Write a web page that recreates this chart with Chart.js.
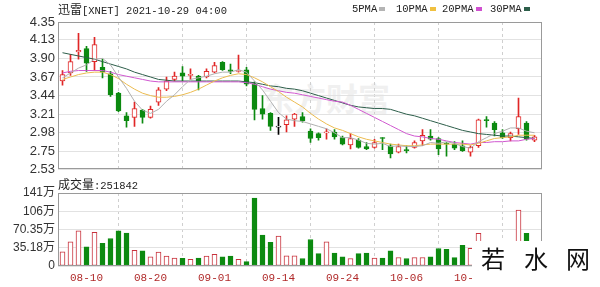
<!DOCTYPE html>
<html><head><meta charset="utf-8">
<script src="https://cdn.jsdelivr.net/npm/chart.js@4"></script>
<style>
html,body{margin:0;padding:0;background:#fff;width:600px;height:287px;overflow:hidden;position:relative;}
canvas{position:absolute;left:0;}
#c1{top:0;}
#c2{top:180px;}
.t{position:absolute;color:#222;white-space:nowrap;line-height:14px;font-size:12px;}
.cj{font-family:"Noto Sans CJK SC",sans-serif;font-size:12px;}
.m{font-family:"Liberation Mono",monospace;font-size:10.5px;}
.t i{display:inline-block;width:6px;height:4px;margin-left:2px;vertical-align:middle;}
#wm{position:absolute;left:262px;top:74px;font-family:"Noto Sans CJK SC",sans-serif;font-size:32px;font-weight:bold;color:#f0f0f0;white-space:nowrap;}
#box{position:absolute;left:472px;top:241px;width:128px;height:46px;background:#fff;}
.wc{position:absolute;top:243px;font-family:"Noto Sans CJK SC",sans-serif;font-size:24px;line-height:30px;color:#111;}
</style></head><body>
<div id="wm">东方财富</div>
<canvas id="c1" width="600" height="180" style="width:600px;height:180px"></canvas>
<canvas id="c2" width="600" height="107" style="width:600px;height:107px"></canvas>
<div class="t" style="left:58px;top:2px"><span class="cj">迅雷</span><span class="m">[XNET] 2021-10-29 04:00</span></div>
<div class="t m" style="left:352px;top:2px">5PMA<i style="background:#b4b4b4"></i></div>
<div class="t m" style="left:396px;top:2px">10PMA<i style="background:#f0c040"></i></div>
<div class="t m" style="left:442px;top:2px">20PMA<i style="background:#d050d0"></i></div>
<div class="t m" style="left:490px;top:2px">30PMA<i style="background:#2d5e4a"></i></div>
<div class="t" style="left:58px;top:177px"><span class="cj">成交量</span><span class="m">:251842</span></div>
<div id="box"></div>
<div class="wc" style="left:481px">若</div>
<div class="wc" style="left:524px">水</div>
<div class="wc" style="left:566px">网</div>
<script>
const dates = ['08-05','08-06','08-09','08-10','08-11','08-12','08-13','08-16','08-17','08-18','08-19','08-20','08-23','08-24','08-25','08-26','08-27','08-30','08-31','09-01','09-02','09-03','09-07','09-08','09-09','09-10','09-13','09-14','09-15','09-16','09-17','09-20','09-21','09-22','09-23','09-24','09-27','09-28','09-29','09-30','10-01','10-04','10-05','10-06','10-07','10-08','10-11','10-12','10-13','10-14','10-15','10-18','10-19','10-20','10-21','10-22','10-25','10-26','10-27','10-28'];
const opens = [3.62,3.72,3.98,4.02,3.86,3.79,3.71,3.47,3.19,3.17, 3.26,3.17,3.36,3.52,3.64,3.72,3.69,3.68,3.67,3.73, 3.85,3.76,3.74,3.76,3.59,3.28,3.22,3.05,3.08,3.15, 3.18,3.00,2.97,2.98,2.99,2.92,2.83,2.89,2.81,2.80, 2.92,2.82,2.74,2.77,2.80,2.88,2.94,2.91,2.85,2.84, 2.82,2.74,2.82,3.14,3.10,2.98,2.92,3.03,3.10,2.89];
const closes = [3.70,3.86,4.00,3.84,4.07,3.73,3.45,3.25,3.13,3.28, 3.17,3.27,3.51,3.62,3.68,3.68,3.70,3.62,3.74,3.81, 3.76,3.74,3.75,3.58,3.27,3.21,3.06,3.05,3.14,3.21, 3.13,2.91,2.92,2.99,2.93,2.84,2.91,2.80,2.78,2.86, 2.91,2.72,2.81,2.76,2.86,2.95,2.90,2.78,2.84,2.79, 2.76,2.80,3.14,3.13,3.02,2.92,2.97,3.18,2.90,2.93];
const highs = [3.75,3.95,4.21,4.05,4.16,3.89,3.74,3.48,3.23,3.36, 3.27,3.31,3.54,3.67,3.73,3.80,3.77,3.69,3.77,3.85, 3.86,3.83,3.94,3.79,3.61,3.44,3.23,3.17,3.19,3.22, 3.23,3.03,2.98,3.03,3.02,2.94,2.97,2.91,2.86,2.90, 2.92,2.84,2.84,2.82,2.88,3.02,3.02,2.92,2.86,2.87, 2.88,2.82,3.15,3.18,3.12,3.02,2.99,3.41,3.12,2.95];
const lows = [3.57,3.69,3.89,3.74,3.75,3.66,3.43,3.24,3.05,3.06, 3.10,3.16,3.32,3.50,3.62,3.62,3.64,3.51,3.66,3.72, 3.75,3.71,3.73,3.56,3.14,3.15,3.01,2.96,2.99,3.06, 3.11,2.86,2.89,2.90,2.90,2.83,2.78,2.79,2.77,2.79, 2.77,2.67,2.73,2.73,2.79,2.82,2.89,2.71,2.69,2.77, 2.75,2.69,2.80,3.05,2.94,2.91,2.88,2.96,2.89,2.87];
const vols = [27.2,46.6,68,37,65,43.5,53,68,63.5,30, 29,17.5,27,19,15.5,15,13,15.5,19,22.7, 17.5,19,13,8.5,131,59.7,45.5,57.7,19.5,19.5, 14.4,51,24,46.6,25,17.5,14.4,24,25,15.5, 15.5,29,16.3,14.4,16.3,16.3,17.5,33.8,32,16, 40,34,63,30,25,20,18,108,63,25.18];
const ma5 = [3.66,3.72,3.78,3.82,3.89,3.90,3.82,3.67,3.53,3.37, 3.26,3.22,3.27,3.37,3.45,3.55,3.64,3.66,3.68,3.71, 3.73,3.73,3.76,3.73,3.62,3.51,3.37,3.23,3.15,3.13, 3.12,3.09,3.06,3.03,2.98,2.92,2.92,2.89,2.85,2.84, 2.85,2.81,2.82,2.81,2.81,2.82,2.86,2.85,2.87,2.85, 2.81,2.79,2.87,2.92,2.97,3.00,3.04,3.04,3.00,2.98];
const ma10 = [3.64,3.67,3.70,3.72,3.73,3.73,3.70,3.65,3.58,3.52, 3.47,3.44,3.42,3.42,3.43,3.45,3.48,3.52,3.57,3.62, 3.66,3.69,3.71,3.70,3.66,3.61,3.55,3.49,3.42,3.36, 3.30,3.22,3.15,3.09,3.04,3.01,2.97,2.93,2.90,2.88, 2.86,2.84,2.83,2.82,2.82,2.83,2.84,2.84,2.84,2.84, 2.84,2.83,2.85,2.88,2.91,2.92,2.93,2.95,2.95,2.95];
const ma20 = [3.72,3.74,3.75,3.75,3.75,3.75,3.73,3.70,3.68,3.66, 3.64,3.62,3.61,3.61,3.61,3.61,3.61,3.61,3.61,3.61, 3.61,3.61,3.61,3.60,3.58,3.55,3.52,3.50,3.48,3.47, 3.45,3.43,3.41,3.39,3.37,3.36,3.32,3.27,3.22,3.17, 3.12,3.07,3.02,2.97,2.94,2.93,2.91,2.90,2.88,2.86, 2.85,2.84,2.86,2.86,2.87,2.87,2.88,2.88,2.90,2.91];
const ma30 = [3.97,3.95,3.93,3.91,3.89,3.86,3.83,3.80,3.77,3.73, 3.70,3.67,3.64,3.63,3.62,3.62,3.62,3.62,3.62,3.62, 3.62,3.62,3.62,3.61,3.60,3.58,3.56,3.55,3.53,3.52, 3.50,3.47,3.44,3.41,3.38,3.35,3.32,3.30,3.29,3.28, 3.28,3.27,3.24,3.21,3.19,3.16,3.13,3.10,3.07,3.04, 3.01,2.99,2.97,2.96,2.95,2.94,2.94,2.93,2.92,2.91];
const priceTicks = [2.53,2.75,2.98,3.21,3.44,3.67,3.90,4.13,4.35];
const priceTickLabels = ['2.53','2.75','2.98','3.21','3.44','3.67','3.90','4.13','4.35'];
const volTicks = [0,35.18,70.35,105.53,140.7];
const volTickLabels = ['0','35.18万','70.35万','106万','141万'];
const xTickIdx = [3,11,19,27,35,43,51,59];

const RED='#e02626', GREEN='#0c8a10', DOJI='#000000', VRED='#c8323c';
const idx = dates.map((d,i)=>i);
const cColor = i => closes[i]>opens[i]?RED:(closes[i]<opens[i]?GREEN:DOJI);
const up = i => closes[i]>=opens[i];
const pt = arr => arr.map((v,i)=>({x:i,y:v}));

const frame = {id:'frame', afterDraw(c){const a=c.chartArea,x=c.ctx;x.save();x.strokeStyle='#9a9a9a';x.lineWidth=1;
  const l=Math.round(a.left)+0.5,t=Math.round(a.top)+0.5,r=Math.round(a.right)-0.5,b=Math.round(a.bottom)-0.5;
  x.strokeRect(l,t,r-l,b-t);x.restore();}};

const xMin=-0.5625, xMax=59.9375;
const yFont={family:'"Liberation Sans", Arial, sans-serif', size:13};
const line = (label,data,color)=>({type:'line',label,data:pt(data),borderColor:color,borderWidth:1,pointRadius:0,tension:0,order:0});

new Chart(document.getElementById('c1'),{
  type:'bar',
  data:{datasets:[
    line('5PMA',ma5,'#b0b0b0'),
    line('10PMA',ma10,'#ecbc50'),
    line('20PMA',ma20,'#d058d0'),
    line('30PMA',ma30,'#2d5e4a'),
    {label:'wick',data:lows.map((v,i)=>({x:i,y:[v,highs[i]]})),backgroundColor:idx.map(cColor),barThickness:1,grouped:false,order:3},
    {label:'body',data:opens.map((v,i)=>({x:i,y:[v,closes[i]]})),backgroundColor:idx.map(i=>closes[i]>=opens[i]?'#ffffff':GREEN),borderColor:idx.map(cColor),borderWidth:1,borderSkipped:false,barThickness:5,minBarLength:1,grouped:false,order:2}
  ]},
  options:{responsive:false,animation:false,devicePixelRatio:1,
    layout:{padding:{left:0,right:58,top:22,bottom:10}},
    plugins:{legend:{display:false},tooltip:{enabled:false}},
    scales:{
      x:{type:'linear',min:xMin,max:xMax,offset:false,
        afterBuildTicks:s=>{s.ticks=xTickIdx.map(v=>({value:v}));},
        ticks:{display:false},grid:{color:'#cfcfcf',drawTicks:false},border:{display:false,dash:[3,3]},
        afterFit:s=>{s.height=0;}},
      y:{min:2.53,max:4.35,
        afterBuildTicks:s=>{s.ticks=priceTicks.map(v=>({value:v}));},
        ticks:{callback:(v,i)=>priceTickLabels[i],font:yFont,color:'#333',padding:3,autoSkip:false},
        grid:{color:'#e2e2e2',drawTicks:false},border:{display:false},
        afterFit:s=>{s.width=58;}}
    }},
  plugins:[frame]
});

new Chart(document.getElementById('c2'),{
  type:'bar',
  data:{datasets:[
    {label:'vol',data:pt(vols),backgroundColor:idx.map(i=>up(i)?'#ffffff':GREEN),borderColor:idx.map(i=>up(i)?VRED:GREEN),borderWidth:1,borderSkipped:false,barThickness:5,grouped:false}
  ]},
  options:{responsive:false,animation:false,devicePixelRatio:1,
    layout:{padding:{left:0,right:58,top:13,bottom:0}},
    plugins:{legend:{display:false},tooltip:{enabled:false}},
    scales:{
      x:{type:'linear',min:xMin,max:xMax,offset:false,
        afterBuildTicks:s=>{s.ticks=xTickIdx.map(v=>({value:v}));},
        ticks:{callback:v=>dates[v],color:'#b02a2a',font:{family:'"Liberation Mono", monospace',size:11},padding:5,maxRotation:0,autoSkip:false},
        grid:{color:'#cfcfcf',drawTicks:false},border:{display:false,dash:[3,3]},
        afterFit:s=>{s.height=21;}},
      y:{min:0,max:140.7,
        afterBuildTicks:s=>{s.ticks=volTicks.map(v=>({value:v}));},
        ticks:{callback:(v,i)=>volTickLabels[i],font:{family:'"Liberation Sans", Arial, "Noto Sans CJK SC", sans-serif',size:12},color:'#333',padding:3,autoSkip:false},
        grid:{color:'#e2e2e2',drawTicks:false},border:{display:false},
        afterFit:s=>{s.width=58;}}
    }},
  plugins:[frame]
});
</script>
</body></html>
